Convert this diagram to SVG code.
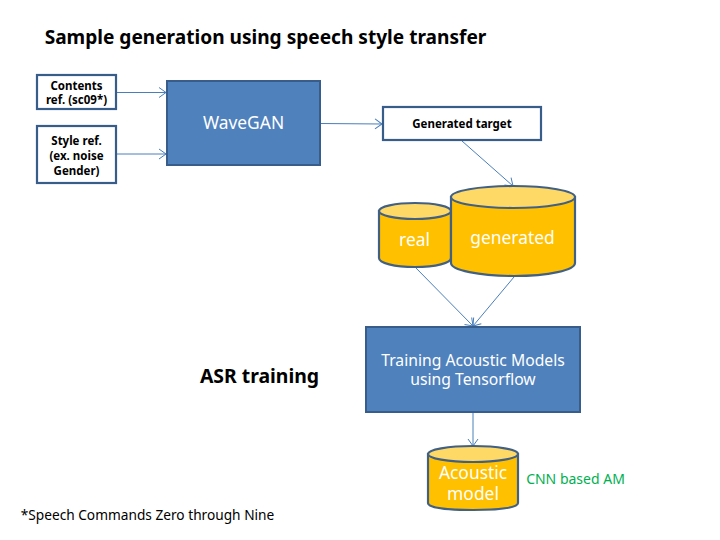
<svg xmlns="http://www.w3.org/2000/svg" width="720" height="540" viewBox="0 0 720 540">
<defs>
<marker id="arrow" markerWidth="9" markerHeight="12" refX="8" refY="6" orient="auto" markerUnits="userSpaceOnUse"><path d="M1 1 L8 6 L1 11" fill="none" stroke="#4a7ebb" stroke-width="1"/></marker>
</defs>
<style>
text{font-family:"Noto Sans","Open Sans","Liberation Sans",sans-serif;text-anchor:middle}
.ttl{font-weight:700;font-size:19.100px;fill:#000}
.lbl{font-weight:700;font-size:11.500px;fill:#000}
.wht{font-size:17.400px;fill:#fff}
.sm{font-size:15.700px;fill:#fff}
.box{fill:#fff;stroke:#385d8a;stroke-width:2.200}
.pr{fill:#4f81bd;stroke:#385d8a;stroke-width:2}
.cyl{fill:#ffc000;stroke:#426084;stroke-width:2.200}
.top{fill:#ffd966;stroke:#426084;stroke-width:2.200}
.con{fill:none;stroke:#4a7ebb;stroke-width:1;marker-end:url(#arrow)}
</style>
<text class="ttl" x="265.500" y="43.500">Sample generation using speech style transfer</text>
<text class="ttl" style="font-size:19.400px" x="259.500" y="382.500">ASR training</text>
<g id="connectors">
<path class="con" d="M116 92.500H166"/>
<path class="con" d="M116 154H166"/>
<path class="con" d="M321 123.500L382 124"/>
<path class="con" d="M462 141L513 186"/>
<path class="con" d="M415 267L473 326"/>
<path class="con" d="M514 277L473 326"/>
<path class="con" d="M473 412V446"/>
</g>
<g id="contents-ref"><rect class="box" x="37" y="75" width="79" height="34"/><text class="lbl"><tspan x="76.500" y="90">Contents</tspan><tspan x="76.500" y="104">ref. (sc09*)</tspan></text></g>
<g id="style-ref"><rect class="box" x="37" y="126" width="79" height="57"/><text class="lbl"><tspan x="76.500" y="145">Style ref.</tspan><tspan x="76.500" y="160">(ex. noise</tspan><tspan x="76.500" y="175">Gender)</tspan></text></g>
<g id="wavegan"><rect class="pr" x="167" y="81" width="153" height="84"/><text class="wht" x="243.500" y="129">WaveGAN</text></g>
<g id="generated-target"><rect class="box" x="383" y="107" width="158" height="33"/><text class="lbl" x="462" y="128">Generated target</text></g>
<g id="real"><path class="cyl" d="M379 211V258C379 263 394 267 415 267C436 267 451 263 451 258V211Z"/><ellipse class="top" cx="415" cy="211" rx="36" ry="8"/><text class="wht" x="414.500" y="246">real</text></g>
<g id="generated"><path class="cyl" d="M451 197V263C451 270 479 276 514 276C549 276 575 270 575 263V197Z"/><ellipse class="top" cx="513" cy="197" rx="62" ry="11"/><text class="wht" x="512.500" y="244">generated</text></g>
<g id="training"><rect class="pr" x="366" y="327" width="214" height="85"/><text class="sm"><tspan x="473" y="366">Training Acoustic Models</tspan><tspan x="473" y="385">using Tensorflow</tspan></text></g>
<g id="acoustic-model"><path class="cyl" d="M428 454V503C428 508 448 510 473 510C498 510 518 508 518 503V454Z"/><ellipse class="top" cx="473" cy="454" rx="45" ry="8"/><text class="wht"><tspan x="473" y="479">Acoustic</tspan><tspan x="473" y="500">model</tspan></text></g>
<text x="575.500" y="484" style="font-size:14px;fill:#00b050">CNN based AM</text>
<text x="147.500" y="519.500" style="font-size:13.700px;fill:#000">*Speech Commands Zero through Nine</text>
</svg>
